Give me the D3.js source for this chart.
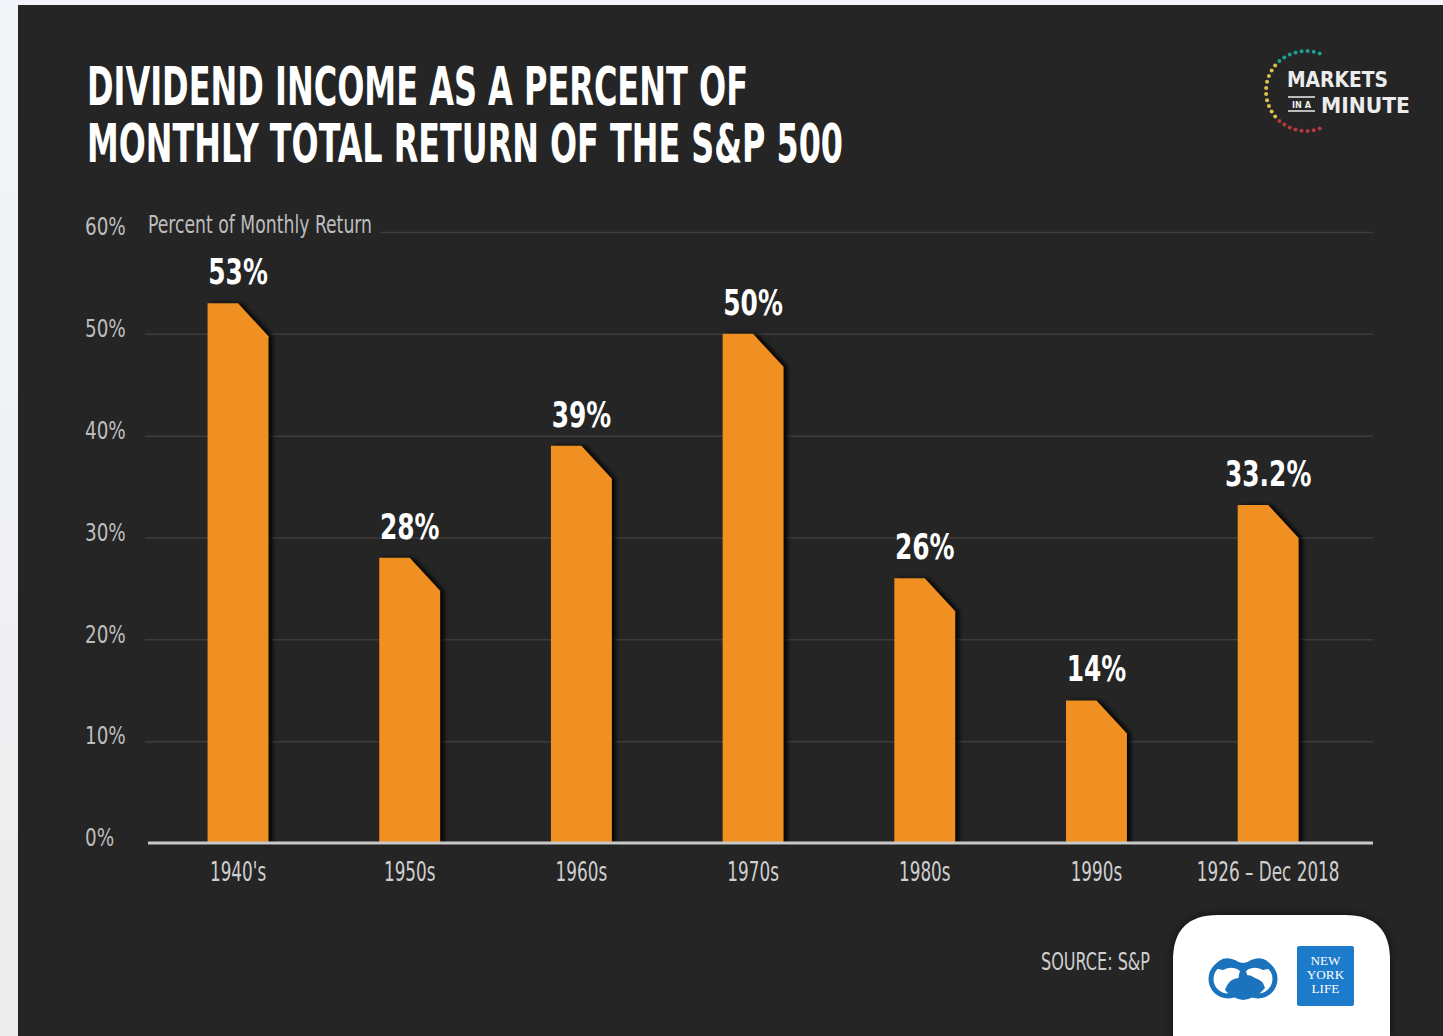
<!DOCTYPE html>
<html>
<head>
<meta charset="utf-8">
<script src="https://cdn.jsdelivr.net/npm/d3@7"></script>
<style>
  html, body { margin: 0; padding: 0; background: #eef1f6; }
  svg { display: block; }
  .narrow { font-family: "Liberation Sans Narrow", "DejaVu Sans Condensed", "Roboto", sans-serif; }
</style>
</head>
<body>
<script>
const categories = ["1940's", "1950s", "1960s", "1970s", "1980s", "1990s", "1926 \u2013 Dec 2018"];
const values = [53, 28, 39, 50, 26, 14, 33.2];
const valueLabels = ["53%", "28%", "39%", "50%", "26%", "14%", "33.2%"];
const yTicks = [0, 10, 20, 30, 40, 50, 60];
const titleLines = ["DIVIDEND INCOME AS A PERCENT OF", "MONTHLY TOTAL RETURN OF THE S&P 500"];

const W = 1443, H = 1036;
const svg = d3.select('body').append('svg')
  .attr('width', W)
  .attr('height', H)
  .attr('class', 'narrow');

// squeeze a text horizontally (no narrow font installed)
function squeeze(sel, k) {
  sel.each(function () {
    const w = this.getComputedTextLength();
    d3.select(this).attr('textLength', w * k).attr('lengthAdjust', 'spacingAndGlyphs');
  });
}

const defs = svg.append('defs');
const lg = defs.append('linearGradient').attr('id', 'side').attr('x1', 0).attr('x2', 0).attr('y1', 0).attr('y2', 1);
lg.append('stop').attr('offset', 0).attr('stop-color', '#f3f5fa');
lg.append('stop').attr('offset', 1).attr('stop-color', '#ececec');
defs.append('filter').attr('id', 'blur').append('feGaussianBlur').attr('stdDeviation', 2);
const sh = defs.append('filter').attr('id', 'boxshadow').attr('x', -0.2).attr('y', -0.2).attr('width', 1.4).attr('height', 1.4);
sh.append('feGaussianBlur').attr('stdDeviation', 4);

// page background + dark panel
svg.append('rect').attr('width', W).attr('height', H).attr('fill', 'url(#side)');
svg.append('rect').attr('x', 18).attr('y', 5).attr('width', W - 18).attr('height', H - 5).attr('fill', '#252525');

// title
titleLines.forEach((t, i) => {
  svg.append('text')
    .attr('x', 87)
    .attr('y', 105 + i * 57)
    .attr('textLength', i === 0 ? 661 : 756)
    .attr('lengthAdjust', 'spacingAndGlyphs')
    .style('font-size', '53px')
    .style('font-weight', 'bold')
    .style('fill', '#ffffff')
    .text(t);
});

// scales
const xScale = d3.scaleBand()
  .domain(categories)
  .range([152.2, 1354])
  .paddingInner(0.645)
  .paddingOuter(0.3225);

const yScale = d3.scaleLinear()
  .domain([0, 60])
  .range([843, 232]);

// gridlines
const grid = svg.append('g')
  .attr('transform', 'translate(145,0)')
  .call(d3.axisLeft(yScale).tickValues(yTicks).tickSize(-(1373 - 145)).tickFormat(''));
grid.select('.domain').remove();
grid.selectAll('.tick line')
  .attr('stroke', '#3d3d3d')
  .attr('stroke-width', 1.5)
  .attr('x1', d => d === 60 ? 1373 - 145 : 0)
  .attr('x2', d => d === 60 ? 380 - 145 : 1373 - 145);
grid.selectAll('.tick').filter(d => d === 0).remove();

// y labels
const yAxis = svg.append('g')
  .attr('transform', 'translate(85,-5)')
  .call(d3.axisRight(yScale).tickValues(yTicks).tickSize(0).tickPadding(0).tickFormat(d => d + '%'));
yAxis.select('.domain').remove();
yAxis.selectAll('text')
  .attr('text-anchor', 'start')
  .style('font-family', '"Liberation Sans Narrow", "DejaVu Sans Condensed", sans-serif')
  .style('font-size', '24px')
  .style('fill', '#bdbdbd')
  .call(squeeze, 0.85);

svg.append('text')
  .attr('x', 148)
  .attr('y', 233)
  .attr('textLength', 224)
  .attr('lengthAdjust', 'spacingAndGlyphs')
  .style('font-size', '25px')
  .style('fill', '#bdbdbd')
  .text('Percent of Monthly Return');

// bars
const bw = xScale.bandwidth();
const chamferW = bw * 0.5;
const chamferH = 33;
function barPath(d, i, dx) {
  const x0 = xScale(categories[i]) + dx;
  const top = yScale(d);
  const base = yScale(0);
  return `M${x0},${base}L${x0},${top}L${x0 + bw - chamferW},${top}L${x0 + bw},${top + chamferH}L${x0 + bw},${base}Z`;
}

svg.selectAll('.bar-shadow').data(values)
  .enter()
  .append('path')
  .attr('class', 'bar-shadow')
  .attr('d', (d, i) => barPath(d, i, 4))
  .attr('fill', '#050505')
  .attr('opacity', 0.85)
  .attr('filter', 'url(#blur)');

svg.selectAll('.bar').data(values)
  .enter()
  .append('path')
  .attr('class', 'bar')
  .attr('d', (d, i) => barPath(d, i, 0))
  .attr('fill', '#f08f22');

// value labels
svg.selectAll('.val').data(values)
  .enter()
  .append('text')
  .attr('class', 'val')
  .attr('x', (d, i) => xScale(categories[i]) + bw / 2)
  .attr('y', d => yScale(d) - 19)
  .attr('text-anchor', 'middle')
  .style('font-size', '35px')
  .style('font-weight', 'bold')
  .style('fill', '#ffffff')
  .text((d, i) => valueLabels[i])
  .call(squeeze, 0.79);

// baseline
svg.append('line')
  .attr('x1', 148).attr('x2', 1373)
  .attr('y1', yScale(0)).attr('y2', yScale(0))
  .attr('stroke', '#c9c9c9')
  .attr('stroke-width', 3);

// x labels
const xAxis = svg.append('g')
  .attr('transform', `translate(0, ${yScale(0)})`)
  .call(d3.axisBottom(xScale).tickSize(0).tickPadding(20));
xAxis.select('.domain').remove();
xAxis.selectAll('text')
  .attr('dy', '0.71em')
  .style('font-family', '"Liberation Sans Narrow", "DejaVu Sans Condensed", sans-serif')
  .style('font-size', '26px')
  .style('fill', '#cfcfcf')
  .call(squeeze, 0.72);

// source
svg.append('text')
  .attr('x', 1041)
  .attr('y', 970)
  .attr('textLength', 109)
  .attr('lengthAdjust', 'spacingAndGlyphs')
  .style('font-size', '24px')
  .style('fill', '#cfcfcf')
  .text('SOURCE: S&P');

// logo box
const boxPath = 'M1173,1040L1173,960Q1173,915 1218,915L1345,915Q1390,915 1390,960L1390,1040Z';
svg.append('path')
  .attr('d', boxPath)
  .attr('fill', '#000')
  .attr('opacity', 0.6)
  .attr('filter', 'url(#boxshadow)');
svg.append('path')
  .attr('d', boxPath)
  .attr('fill', '#ffffff');

// binocular-like mark
const bl = svg.append('g').attr('transform', 'translate(1243,976)');
bl.append('circle').attr('cx', -15).attr('cy', 3).attr('r', 17).attr('fill', 'none').attr('stroke', '#1b73bd').attr('stroke-width', 5);
bl.append('circle').attr('cx', 15).attr('cy', 3).attr('r', 17).attr('fill', 'none').attr('stroke', '#1b73bd').attr('stroke-width', 5);
bl.append('path').attr('d', 'M-30,-8Q-22,-22 -8,-16Q0,-10 8,-16Q22,-22 30,-8L20,-6Q8,-12 0,-2Q-8,-12 -20,-6Z').attr('fill', '#1b73bd');
bl.append('path').attr('d', 'M-18,14Q-14,2 -4,2Q4,-4 12,2Q20,4 22,12Q14,22 0,24Q-12,22 -18,14Z').attr('fill', '#1b73bd');

// NYL square
svg.append('rect').attr('x', 1297).attr('y', 946).attr('width', 57).attr('height', 60).attr('rx', 2).attr('fill', '#1d7bcb');
['NEW', 'YORK', 'LIFE'].forEach((t, i) => {
  svg.append('text')
    .attr('x', 1325.5)
    .attr('y', 965 + i * 14)
    .attr('text-anchor', 'middle')
    .style('font-family', '"Liberation Serif", serif')
    .style('font-size', '12px')
    .style('fill', '#ffffff')
    .text(t)
    .call(squeeze, 1.1);
});

// Markets in a Minute logo
const mm = svg.append('g');
const dotColors = ['#1f9e8f', '#d8c24a', '#b23b3f'];
d3.range(0, 26).forEach(k => {
  const a = (-70 - k * 8.8) * Math.PI / 180;
  const cx = 1306 + 40 * Math.cos(a);
  const cy = 91 + 40 * Math.sin(a);
  const c = k < 8 ? dotColors[0] : (k < 18 ? dotColors[1] : dotColors[2]);
  mm.append('circle').attr('cx', cx).attr('cy', cy).attr('r', 2).attr('fill', c);
});
mm.append('text')
  .attr('x', 1287).attr('y', 87)
  .attr('textLength', 101).attr('lengthAdjust', 'spacingAndGlyphs')
  .style('font-size', '21px').style('font-weight', 'bold').style('fill', '#ececec')
  .text('MARKETS');
mm.append('text')
  .attr('x', 1321).attr('y', 113)
  .attr('textLength', 89).attr('lengthAdjust', 'spacingAndGlyphs')
  .style('font-size', '21px').style('font-weight', 'bold').style('fill', '#ececec')
  .text('MINUTE');
mm.append('line').attr('x1', 1288).attr('x2', 1315).attr('y1', 97).attr('y2', 97).attr('stroke', '#ececec').attr('stroke-width', 1.5);
mm.append('line').attr('x1', 1288).attr('x2', 1315).attr('y1', 111).attr('y2', 111).attr('stroke', '#ececec').attr('stroke-width', 1.5);
mm.append('text')
  .attr('x', 1301.5).attr('y', 108)
  .attr('text-anchor', 'middle')
  .style('font-size', '9px').style('font-weight', 'bold').style('fill', '#ececec')
  .text('IN A');
</script>
</body>
</html>
